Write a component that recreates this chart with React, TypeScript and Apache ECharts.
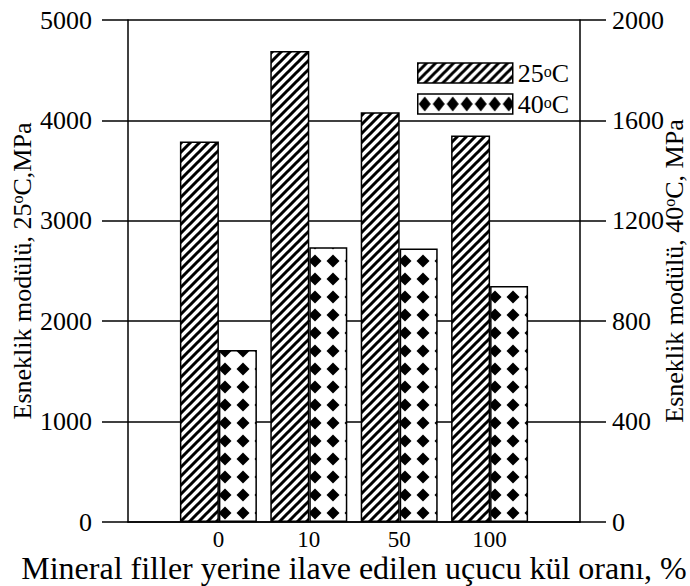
import React, { useEffect, useRef } from 'react';
import * as echarts from 'echarts';

const categories = ['', '0', '10', '50', '100', ''];
const modulus25 = [null, 3790, 4690, 4080, 3850, null];
const modulus40 = [null, 685, 1095, 1090, 940, null];
const seriesNames = ['25°C', '40°C'];
const leftAxisName = 'Esneklik modülü, 25{s|o}C,MPa';
const rightAxisName = 'Esneklik modülü, 40{s|o}C, MPa';
const xAxisName = 'Mineral filler yerine ilave edilen uçucu kül oranı, %';

const FONT = '"Liberation Serif", "Times New Roman", serif';

function stripeCanvas(): HTMLCanvasElement {
  const s = 9;
  const c = document.createElement('canvas');
  c.width = s;
  c.height = s;
  const ctx = c.getContext('2d')!;
  ctx.fillStyle = '#fff';
  ctx.fillRect(0, 0, s, s);
  ctx.strokeStyle = '#000';
  ctx.lineWidth = 3;
  ctx.beginPath();
  ctx.moveTo(-s, s);
  ctx.lineTo(s, -s);
  ctx.moveTo(0, 2 * s);
  ctx.lineTo(2 * s, 0);
  ctx.moveTo(-1, s + 1);
  ctx.lineTo(s + 1, -1);
  ctx.stroke();
  return c;
}

function diamondCanvas(w: number, h: number, cx: number, cy: number, rx: number, ry: number): HTMLCanvasElement {
  const c = document.createElement('canvas');
  c.width = w;
  c.height = h;
  const ctx = c.getContext('2d')!;
  ctx.fillStyle = '#fff';
  ctx.fillRect(0, 0, w, h);
  ctx.fillStyle = '#000';
  ctx.beginPath();
  ctx.moveTo(cx, cy - ry);
  ctx.lineTo(cx + rx, cy);
  ctx.lineTo(cx, cy + ry);
  ctx.lineTo(cx - rx, cy);
  ctx.closePath();
  ctx.fill();
  return c;
}

export default function App() {
  const ref = useRef<HTMLDivElement>(null);
  useEffect(() => {
    if (!ref.current) return;
    const chart = echarts.init(ref.current, undefined, { renderer: 'svg' });
    const stripe = { image: stripeCanvas(), repeat: 'repeat' } as any;
    const dia = { image: diamondCanvas(18, 18, 9, 9, 6.5, 6.5), repeat: 'repeat' } as any;
    const diaLegend = { image: diamondCanvas(14, 20, 7, 10, 6, 7.5), repeat: 'repeat' } as any;
    const black = '#000';
    const axisLine = { show: true, lineStyle: { color: black, width: 1.5 } };
    const supRich = { s: { fontSize: 16, lineHeight: 16, verticalAlign: 'top', fontFamily: FONT, color: black } };
    const plain = (v: number) => String(v);
    chart.setOption({
      animation: false,
      backgroundColor: '#fff',
      textStyle: { fontFamily: FONT, color: black },
      grid: { left: 128, right: 110, top: 20, bottom: 64, containLabel: false, outerBoundsMode: 'none' },
      legend: {
        show: true,
        orient: 'vertical',
        left: 417,
        top: 60,
        padding: 0,
        itemWidth: 95,
        itemHeight: 20,
        itemGap: 5,
        icon: 'rect',
        data: [
          { name: seriesNames[0], itemStyle: { color: stripe, borderColor: black, borderWidth: 1.5 } },
          { name: seriesNames[1], itemStyle: { color: diaLegend, borderColor: black, borderWidth: 1.5 } },
        ],
        formatter: (n: string) => n.replace('°', '{s|o}'),
        textStyle: { fontSize: 26, lineHeight: 20, fontFamily: FONT, color: black, rich: supRich },
      },
      xAxis: {
        type: 'category',
        data: categories,
        boundaryGap: false,
        axisLine,
        axisTick: { show: false },
        axisLabel: { fontSize: 23, fontFamily: FONT, color: black, margin: 6, interval: 0 },
        splitLine: { show: false },
        name: xAxisName,
        nameLocation: 'middle',
        nameGap: 30,
        nameMoveOverlap: false,
        nameTextStyle: { fontSize: 32, fontFamily: FONT, color: black },
      },
      yAxis: [
        {
          type: 'value',
          min: 0,
          max: 5000,
          interval: 1000,
          axisLine,
          axisTick: { show: true, inside: false, length: 26, lineStyle: { color: black, width: 1.5 } },
          axisLabel: { fontSize: 26, fontFamily: FONT, color: black, margin: 36, formatter: plain },
          splitLine: { show: true, lineStyle: { color: black, width: 1.5 } },
          name: leftAxisName,
          nameLocation: 'middle',
          nameRotate: 90,
          nameGap: 93,
          nameMoveOverlap: false,
          nameTextStyle: { fontSize: 26, fontFamily: FONT, color: black, rich: supRich },
        },
        {
          type: 'value',
          min: 0,
          max: 2000,
          interval: 400,
          position: 'right',
          axisLine,
          axisTick: { show: true, inside: false, length: 26, lineStyle: { color: black, width: 1.5 } },
          axisLabel: { fontSize: 26, fontFamily: FONT, color: black, margin: 32, formatter: plain },
          splitLine: { show: false },
          name: rightAxisName,
          nameLocation: 'middle',
          nameRotate: 90,
          nameGap: 81,
          nameMoveOverlap: false,
          nameTextStyle: { fontSize: 26, fontFamily: FONT, color: black, rich: supRich },
        },
      ],
      series: [
        {
          name: seriesNames[0],
          type: 'bar',
          yAxisIndex: 0,
          data: modulus25,
          barWidth: 39,
          barGap: '0%',
          itemStyle: { color: stripe, borderColor: black, borderWidth: 1.5 },
        },
        {
          name: seriesNames[1],
          type: 'bar',
          yAxisIndex: 1,
          data: modulus40,
          barWidth: 38,
          barGap: '0%',
          itemStyle: { color: dia, borderColor: black, borderWidth: 1.5 },
        },
      ],
    });
    return () => chart.dispose();
  }, []);
  return <div ref={ref} style={{ width: 690, height: 586, position: 'absolute', left: 0, top: 0 }} />;
}
